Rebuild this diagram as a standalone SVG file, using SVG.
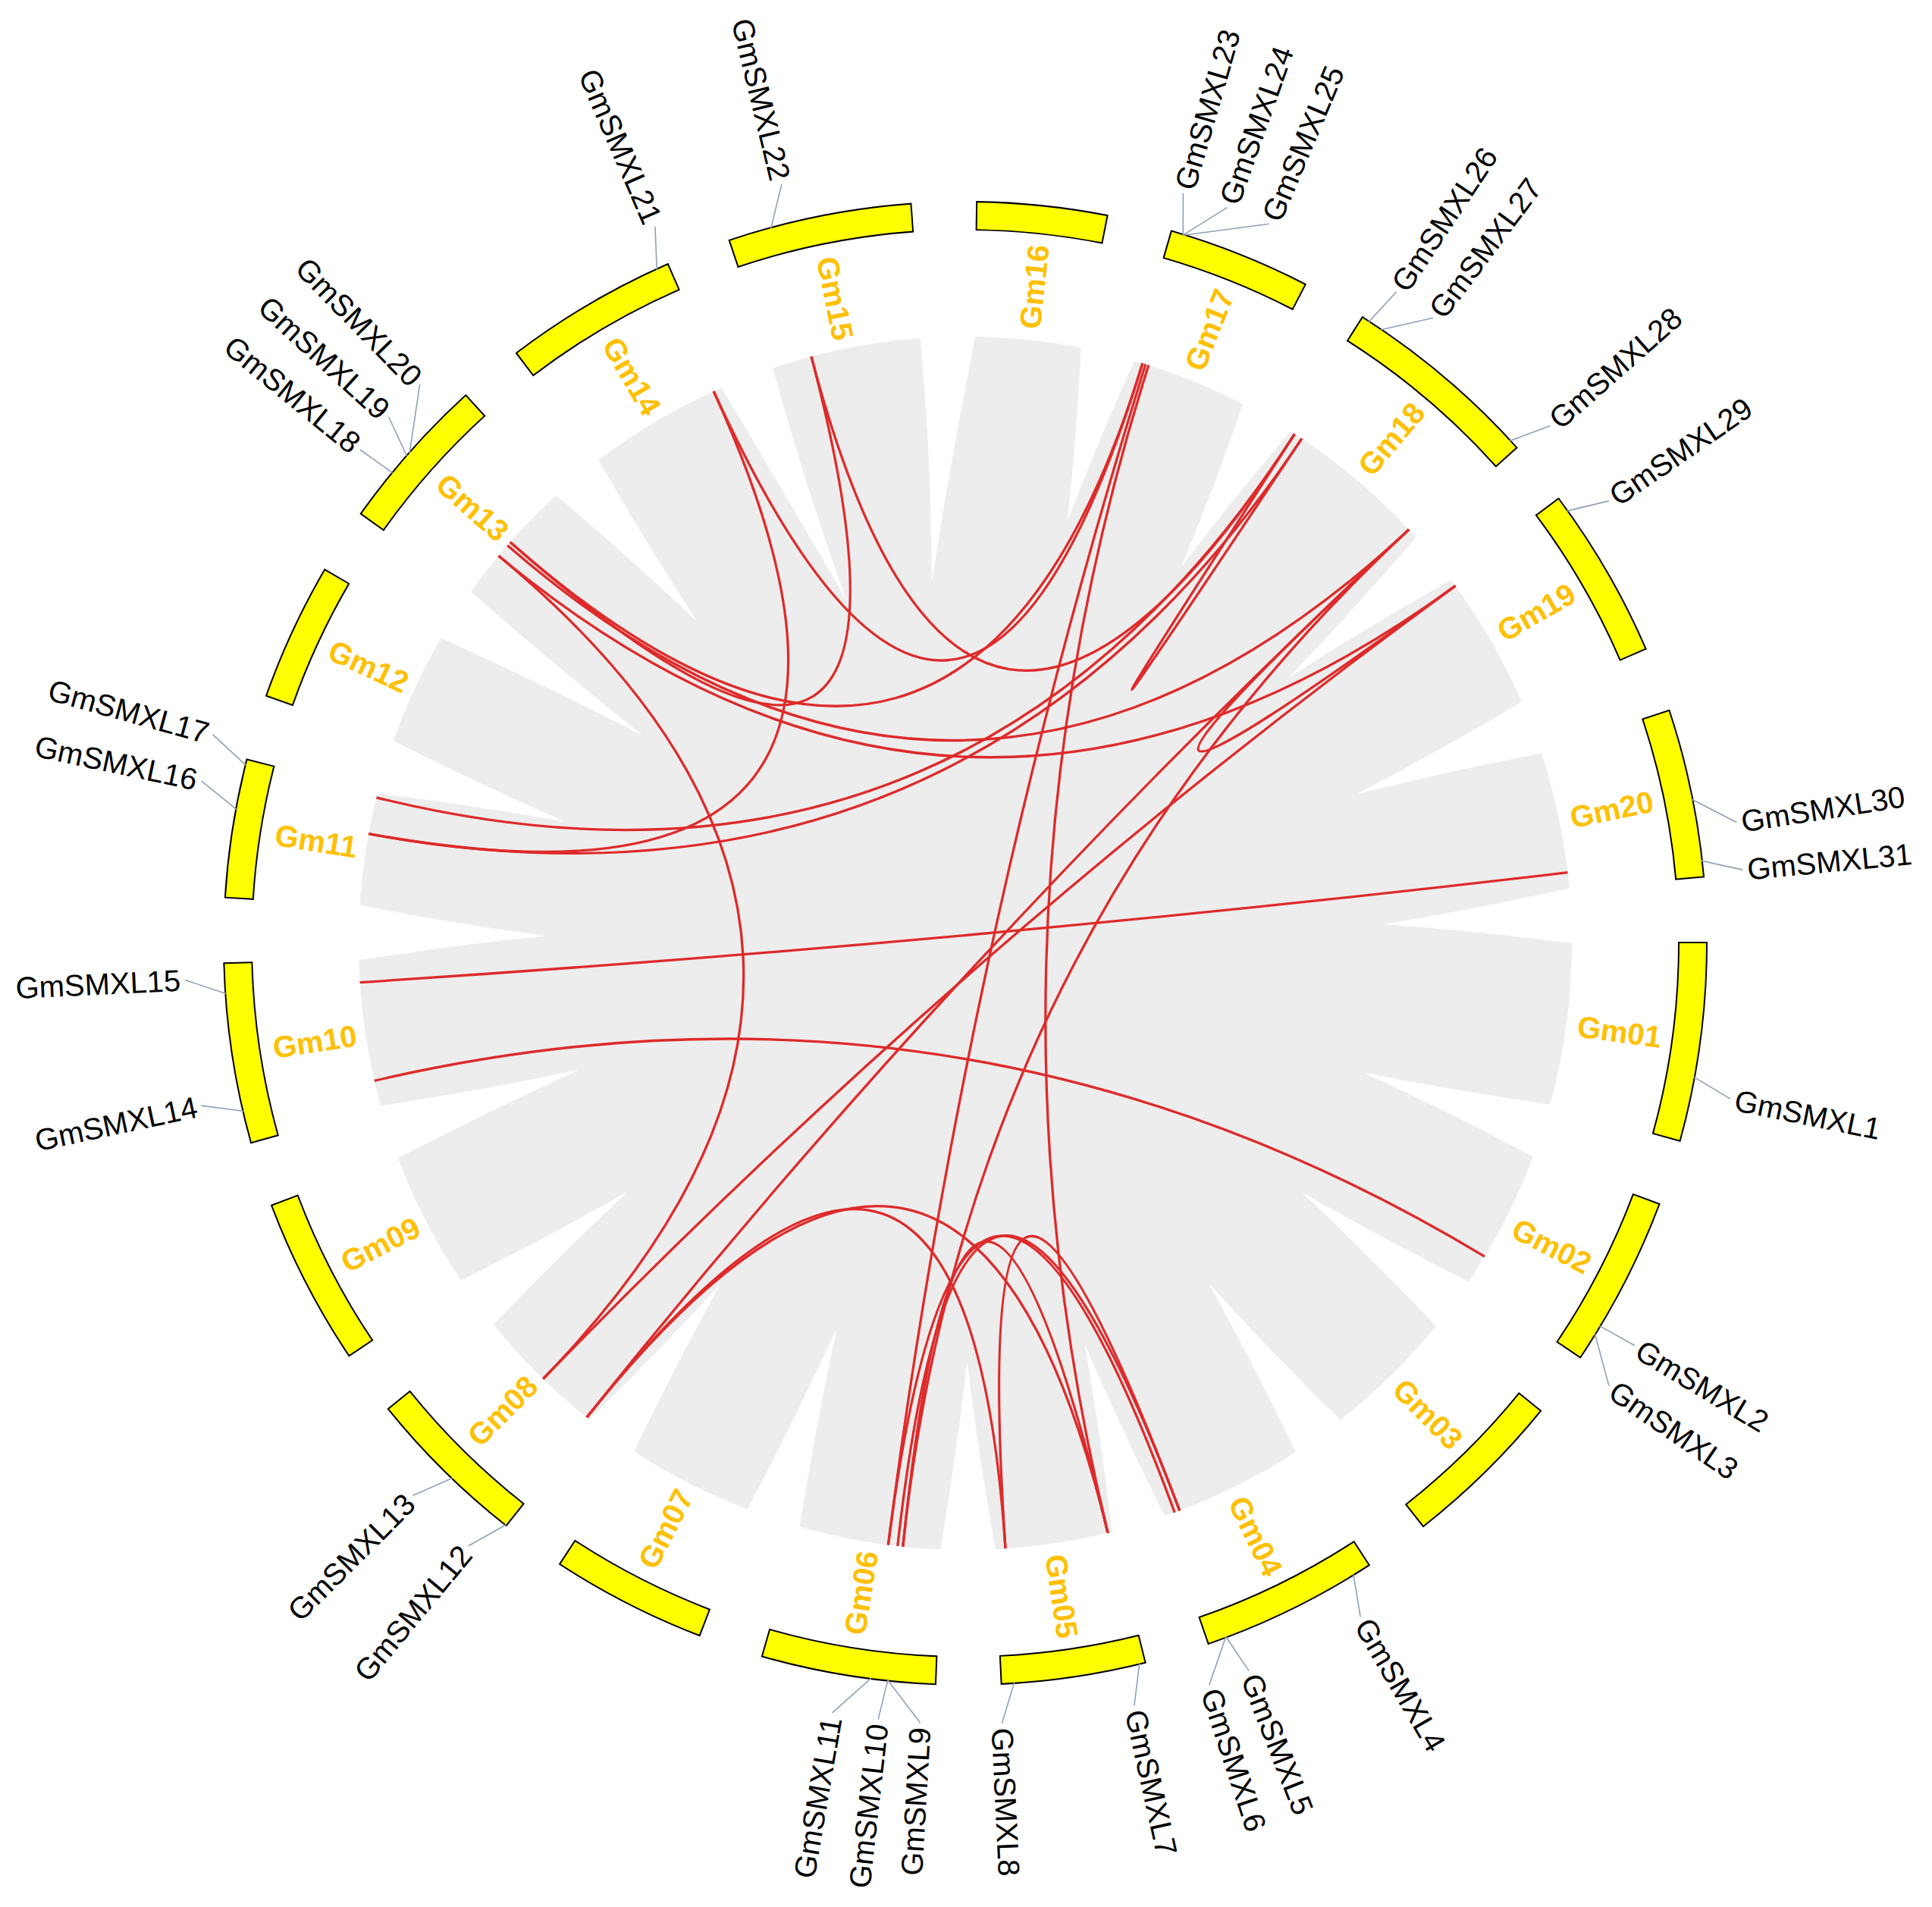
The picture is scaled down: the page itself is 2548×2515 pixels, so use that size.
<svg xmlns="http://www.w3.org/2000/svg" width="2548" height="2515" viewBox="0 0 2548 2515">
<style>
.chrB{fill:none;stroke:#000;stroke-width:39}
.chrY{fill:none;stroke:#ffff00;stroke-width:35}
.cl{font-family:"Liberation Sans",Arial,sans-serif;font-weight:bold;font-size:40px;fill:#FFC000}
.gl{font-family:"Liberation Sans",Arial,sans-serif;font-size:40px;fill:#000}
.cn{stroke:#8FA1B5;stroke-width:1.6;fill:none}
.lk{fill:none;stroke:#DE2A2A;stroke-width:3.3}
.wd{fill:#fff}
</style>
<defs>
<path id="w48" d="M812,-37L812,37L799.2,36.3Q638.6,14.5 478,0Q638.6,-14.5 799.2,-36.3Z"/>
<path id="w48l" d="M812,-37L812,37L799.2,36.3Q638,-1 477,-30.4Q638,-26 799.2,-36.3Z"/>
<path id="w48r" d="M812,-37L812,37L799.2,36.3Q638,20 478,16.7Q638,-8 799.2,-36.3Z"/>
<path id="w50" d="M812,-37L812,37L799.2,36.3Q652.1,14.5 505,0Q652.1,-14.5 799.2,-36.3Z"/>
<path id="w53" d="M812,-37L812,37L799.2,36.3Q667.1,14.5 535,0Q667.1,-14.5 799.2,-36.3Z"/>
<path id="w55" d="M812,-37L812,37L799.2,36.3Q675.6,14.5 552,0Q675.6,-14.5 799.2,-36.3Z"/>
<path id="w57" d="M812,-37L812,37L799.2,36.3Q685.6,14.5 572,0Q685.6,-14.5 799.2,-36.3Z"/>
</defs>
<rect width="2548" height="2515" fill="#fff"/>
<g transform="translate(1273 1244)">
<g id="synteny">
<circle r="800" fill="#ededed"/>
<g class="wd">
<use href="#w55" transform="rotate(18)"/>
<use href="#w55" transform="rotate(36.5)"/>
<use href="#w55" transform="rotate(54.4)"/>
<use href="#w55" transform="rotate(73.4)"/>
<use href="#w55" transform="rotate(89.75)"/>
<use href="#w53" transform="rotate(108.45)"/>
<use href="#w55" transform="rotate(125.7)"/>
<use href="#w55" transform="rotate(143.65)"/>
<use href="#w53" transform="rotate(161.85)"/>
<use href="#w55" transform="rotate(181)"/>
<use href="#w55" transform="rotate(196.9)"/>
<use href="#w50" transform="rotate(212.8)"/>
<use href="#w55" transform="rotate(230.2)"/>
<use href="#w48r" transform="rotate(248.9)"/>
<use href="#w48l" transform="rotate(268.35)"/>
<use href="#w57" transform="rotate(283.6)"/>
<use href="#w57" transform="rotate(299.85)"/>
<use href="#w55" transform="rotate(320.6)"/>
<use href="#w55" transform="rotate(339.15)"/>
<use href="#w55" transform="rotate(357.4)"/>
</g>
</g>
<g id="links" class="lk">
<path d="M-798.3,51.6Q0,0 794.5,-93.3"/>
<path d="M-779.2,181.3Q0,0 685,413.2"/>
<path d="M-615.5,-511Q0,0 -556.7,574.5"/>
<path d="M-615.5,-511Q0,0 646.4,-471.4"/>
<path d="M-600.1,-529Q0,0 -203,-773.8"/>
<path d="M-600.1,-529Q0,0 233.9,-765"/>
<path d="M-603.8,-524.8Q0,0 585.1,-545.6"/>
<path d="M-776.6,-192.2Q0,0 434.5,-671.7"/>
<path d="M-786.9,-144.4Q0,0 443.9,-665.6"/>
<path d="M-331.8,-728Q0,0 -786.9,-144.4"/>
<path d="M-331.8,-728Q0,0 233.9,-765"/>
<path d="M-203,-773.8Q0,0 434.5,-671.7"/>
<path d="M434.5,-671.7Q0,0 443.9,-665.6"/>
<path d="M585.1,-545.6Q0,0 646.4,-471.4"/>
<path d="M-499.1,625.2Q0,0 585.1,-545.6"/>
<path d="M-556.7,574.5Q0,0 646.4,-471.4"/>
<path d="M-101.6,793.5Q0,0 237.9,-763.8"/>
<path d="M-82.2,795.8Q0,0 585.1,-545.6"/>
<path d="M188.1,777.6Q0,0 241.9,-762.6"/>
<path d="M-82.2,795.8Q0,0 188.1,777.6"/>
<path d="M-89.2,795Q0,0 282.8,748.4"/>
<path d="M-101.6,793.5Q0,0 276.2,750.8"/>
<path d="M53,798.2Q0,0 282.8,748.4"/>
<path d="M-499.1,625.2Q0,0 188.1,777.6"/>
<path d="M-499.1,625.2Q0,0 53,798.2"/>
</g>
<g id="Gm01"><circle class="chrB" r="959.5" transform="rotate(-0.12)" stroke-dasharray="261.9 7000"/><circle class="chrY" r="959.5" stroke-dasharray="257.9 7000"/><text class="cl" transform="rotate(7.7)" x="815" dy="0.35em">Gm01</text></g>
<g id="Gm02"><circle class="chrB" r="959.5" transform="rotate(20.53)" stroke-dasharray="225.9 7000"/><circle class="chrY" r="959.5" transform="rotate(20.65)" stroke-dasharray="221.9 7000"/><text class="cl" transform="rotate(27.3)" x="815" dy="0.35em">Gm02</text></g>
<g id="Gm03"><circle class="chrB" r="959.5" transform="rotate(39.03)" stroke-dasharray="215.8 7000"/><circle class="chrY" r="959.5" transform="rotate(39.15)" stroke-dasharray="211.8 7000"/><text class="cl" transform="rotate(45.5)" x="815" dy="0.35em">Gm03</text></g>
<g id="Gm04"><circle class="chrB" r="959.5" transform="rotate(56.93)" stroke-dasharray="234.3 7000"/><circle class="chrY" r="959.5" transform="rotate(57.05)" stroke-dasharray="230.3 7000"/><text class="cl" transform="rotate(63.9)" x="815" dy="0.35em">Gm04</text></g>
<g id="Gm05"><circle class="chrB" r="959.5" transform="rotate(75.88)" stroke-dasharray="190.7 7000"/><circle class="chrY" r="959.5" transform="rotate(76)" stroke-dasharray="186.7 7000"/><text class="cl" transform="rotate(81.6)" x="815" dy="0.35em">Gm05</text></g>
<g id="Gm06"><circle class="chrB" r="959.5" transform="rotate(92.23)" stroke-dasharray="230.1 7000"/><circle class="chrY" r="959.5" transform="rotate(92.35)" stroke-dasharray="226.1 7000"/><text class="cl" transform="rotate(-80.9)" x="-812" dy="0.35em" text-anchor="end">Gm06</text></g>
<g id="Gm07"><circle class="chrB" r="959.5" transform="rotate(110.93)" stroke-dasharray="205.8 7000"/><circle class="chrY" r="959.5" transform="rotate(111.05)" stroke-dasharray="201.8 7000"/><text class="cl" transform="rotate(-62.9)" x="-812" dy="0.35em" text-anchor="end">Gm07</text></g>
<g id="Gm08"><circle class="chrB" r="959.5" transform="rotate(128.18)" stroke-dasharray="217.5 7000"/><circle class="chrY" r="959.5" transform="rotate(128.3)" stroke-dasharray="213.5 7000"/><text class="cl" transform="rotate(-45.3)" x="-812" dy="0.35em" text-anchor="end">Gm08</text></g>
<g id="Gm09"><circle class="chrB" r="959.5" transform="rotate(146.13)" stroke-dasharray="221.7 7000"/><circle class="chrY" r="959.5" transform="rotate(146.25)" stroke-dasharray="217.7 7000"/><text class="cl" transform="rotate(-27.25)" x="-812" dy="0.35em" text-anchor="end">Gm09</text></g>
<g id="Gm10"><circle class="chrB" r="959.5" transform="rotate(164.33)" stroke-dasharray="237.6 7000"/><circle class="chrY" r="959.5" transform="rotate(164.45)" stroke-dasharray="233.6 7000"/><text class="cl" transform="rotate(-8.6)" x="-812" dy="0.35em" text-anchor="end">Gm10</text></g>
<g id="Gm11"><circle class="chrB" r="959.5" transform="rotate(183.48)" stroke-dasharray="183.2 7000"/><circle class="chrY" r="959.5" transform="rotate(183.6)" stroke-dasharray="179.2 7000"/><text class="cl" transform="rotate(8.95)" x="-812" dy="0.35em" text-anchor="end">Gm11</text></g>
<g id="Gm12"><circle class="chrB" r="959.5" transform="rotate(199.43)" stroke-dasharray="182.4 7000"/><circle class="chrY" r="959.5" transform="rotate(199.55)" stroke-dasharray="178.4 7000"/><text class="cl" transform="rotate(24.9)" x="-812" dy="0.35em" text-anchor="end">Gm12</text></g>
<g id="Gm13"><circle class="chrB" r="959.5" transform="rotate(215.33)" stroke-dasharray="207.5 7000"/><circle class="chrY" r="959.5" transform="rotate(215.45)" stroke-dasharray="203.5 7000"/><text class="cl" transform="rotate(41.5)" x="-812" dy="0.35em" text-anchor="end">Gm13</text></g>
<g id="Gm14"><circle class="chrB" r="959.5" transform="rotate(232.68)" stroke-dasharray="230.1 7000"/><circle class="chrY" r="959.5" transform="rotate(232.8)" stroke-dasharray="226.1 7000"/><text class="cl" transform="rotate(59.55)" x="-812" dy="0.35em" text-anchor="end">Gm14</text></g>
<g id="Gm15"><circle class="chrB" r="959.5" transform="rotate(251.38)" stroke-dasharray="242.6 7000"/><circle class="chrY" r="959.5" transform="rotate(251.5)" stroke-dasharray="238.6 7000"/><text class="cl" transform="rotate(78.6)" x="-812" dy="0.35em" text-anchor="end">Gm15</text></g>
<g id="Gm16"><circle class="chrB" r="959.5" transform="rotate(270.83)" stroke-dasharray="172.3 7000"/><circle class="chrY" r="959.5" transform="rotate(270.95)" stroke-dasharray="168.3 7000"/><text class="cl" transform="rotate(276)" x="815" dy="0.35em">Gm16</text></g>
<g id="Gm17"><circle class="chrB" r="959.5" transform="rotate(286.08)" stroke-dasharray="189.1 7000"/><circle class="chrY" r="959.5" transform="rotate(286.2)" stroke-dasharray="185.1 7000"/><text class="cl" transform="rotate(291.7)" x="815" dy="0.35em">Gm17</text></g>
<g id="Gm18"><circle class="chrB" r="959.5" transform="rotate(302.33)" stroke-dasharray="264.4 7000"/><circle class="chrY" r="959.5" transform="rotate(302.45)" stroke-dasharray="260.4 7000"/><text class="cl" transform="rotate(310.2)" x="815" dy="0.35em">Gm18</text></g>
<g id="Gm19"><circle class="chrB" r="959.5" transform="rotate(323.08)" stroke-dasharray="227.6 7000"/><circle class="chrY" r="959.5" transform="rotate(323.2)" stroke-dasharray="223.6 7000"/><text class="cl" transform="rotate(329.9)" x="815" dy="0.35em">Gm19</text></g>
<g id="Gm20"><circle class="chrB" r="959.5" transform="rotate(341.63)" stroke-dasharray="222.5 7000"/><circle class="chrY" r="959.5" transform="rotate(341.75)" stroke-dasharray="218.5 7000"/><text class="cl" transform="rotate(348.3)" x="815" dy="0.35em">Gm20</text></g>
<g id="leaders" class="cn">
<line transform="rotate(10.4)" x1="977" y1="0" x2="1029.8" y2="19.8"/>
<line transform="rotate(31.1)" x1="977" y1="0" x2="1030" y2="-1.8"/>
<line transform="rotate(31.8)" x1="977" y1="0" x2="1028.9" y2="48.5"/>
<line transform="rotate(58.4)" x1="977" y1="0" x2="1029.8" y2="21.6"/>
<line transform="rotate(69.4)" x1="977" y1="0" x2="1029.9" y2="-12.6"/>
<line transform="rotate(69.4)" x1="977" y1="0" x2="1029.1" y2="43.1"/>
<line transform="rotate(76.4)" x1="977" y1="0" x2="1029.8" y2="19.8"/>
<line transform="rotate(86.2)" x1="977" y1="0" x2="1029.8" y2="19.8"/>
<line transform="rotate(96)" x1="977" y1="0" x2="1028.9" y2="-48.5"/>
<line transform="rotate(96)" x1="977" y1="0" x2="1030" y2="7.2"/>
<line transform="rotate(97.3)" x1="977" y1="0" x2="1029" y2="44.9"/>
<line transform="rotate(128.3)" x1="977" y1="0" x2="1029.8" y2="21.6"/>
<line transform="rotate(133.8)" x1="977" y1="0" x2="1029.8" y2="21.6"/>
<line transform="rotate(166.9)" x1="977" y1="0" x2="1029.8" y2="19.8"/>
<line transform="rotate(176.1)" x1="977" y1="0" x2="1029.8" y2="21.6"/>
<line transform="rotate(190.4)" x1="977" y1="0" x2="1029.6" y2="28.8"/>
<line transform="rotate(193.9)" x1="977" y1="0" x2="1029.6" y2="28.8"/>
<line transform="rotate(219.4)" x1="977" y1="0" x2="1030" y2="-3.6"/>
<line transform="rotate(221.1)" x1="977" y1="0" x2="1029.7" y2="23.4"/>
<line transform="rotate(221.4)" x1="977" y1="0" x2="1027.1" y2="77.2"/>
<line transform="rotate(245.4)" x1="977" y1="0" x2="1029.8" y2="21.6"/>
<line transform="rotate(254.8)" x1="977" y1="0" x2="1029.6" y2="28.8"/>
<line transform="rotate(287.1)" x1="977" y1="0" x2="1029.9" y2="-16.2"/>
<line transform="rotate(287.1)" x1="977" y1="0" x2="1029" y2="44.9"/>
<line transform="rotate(287.1)" x1="977" y1="0" x2="1024.7" y2="104.1"/>
<line transform="rotate(303)" x1="977" y1="0" x2="1030" y2="9"/>
<line transform="rotate(304.1)" x1="977" y1="0" x2="1028.9" y2="48.5"/>
<line transform="rotate(317.3)" x1="977" y1="0" x2="1029.8" y2="21.6"/>
<line transform="rotate(324.3)" x1="977" y1="0" x2="1029.8" y2="21.6"/>
<line transform="rotate(348.8)" x1="977" y1="0" x2="1029.2" y2="41.3"/>
<line transform="rotate(353.6)" x1="977" y1="0" x2="1029.8" y2="18"/>
</g>
<g id="GmSMXL1"><text class="gl" transform="rotate(11.5)" x="1036" dy="0.35em">GmSMXL1</text></g>
<g id="GmSMXL2"><text class="gl" transform="rotate(31)" x="1036" dy="0.35em">GmSMXL2</text></g>
<g id="GmSMXL3"><text class="gl" transform="rotate(34.5)" x="1036" dy="0.35em">GmSMXL3</text></g>
<g id="GmSMXL4"><text class="gl" transform="rotate(59.6)" x="1036" dy="0.35em">GmSMXL4</text></g>
<g id="GmSMXL5"><text class="gl" transform="rotate(68.7)" x="1036" dy="0.35em">GmSMXL5</text></g>
<g id="GmSMXL6"><text class="gl" transform="rotate(71.8)" x="1036" dy="0.35em">GmSMXL6</text></g>
<g id="GmSMXL7"><text class="gl" transform="rotate(77.5)" x="1036" dy="0.35em">GmSMXL7</text></g>
<g id="GmSMXL8"><text class="gl" transform="rotate(87.3)" x="1036" dy="0.35em">GmSMXL8</text></g>
<g id="GmSMXL9"><text class="gl" transform="rotate(-86.7)" x="-1036" dy="0.35em" text-anchor="end">GmSMXL9</text></g>
<g id="GmSMXL10"><text class="gl" transform="rotate(-83.6)" x="-1036" dy="0.35em" text-anchor="end">GmSMXL10</text></g>
<g id="GmSMXL11"><text class="gl" transform="rotate(-80.2)" x="-1036" dy="0.35em" text-anchor="end">GmSMXL11</text></g>
<g id="GmSMXL12"><text class="gl" transform="rotate(-50.5)" x="-1036" dy="0.35em" text-anchor="end">GmSMXL12</text></g>
<g id="GmSMXL13"><text class="gl" transform="rotate(-45)" x="-1036" dy="0.35em" text-anchor="end">GmSMXL13</text></g>
<g id="GmSMXL14"><text class="gl" transform="rotate(-12)" x="-1036" dy="0.35em" text-anchor="end">GmSMXL14</text></g>
<g id="GmSMXL15"><text class="gl" transform="rotate(-2.7)" x="-1036" dy="0.35em" text-anchor="end">GmSMXL15</text></g>
<g id="GmSMXL16"><text class="gl" transform="rotate(12)" x="-1036" dy="0.35em" text-anchor="end">GmSMXL16</text></g>
<g id="GmSMXL17"><text class="gl" transform="rotate(15.5)" x="-1036" dy="0.35em" text-anchor="end">GmSMXL17</text></g>
<g id="GmSMXL18"><text class="gl" transform="rotate(39.2)" x="-1036" dy="0.35em" text-anchor="end">GmSMXL18</text></g>
<g id="GmSMXL19"><text class="gl" transform="rotate(42.4)" x="-1036" dy="0.35em" text-anchor="end">GmSMXL19</text></g>
<g id="GmSMXL20"><text class="gl" transform="rotate(45.7)" x="-1036" dy="0.35em" text-anchor="end">GmSMXL20</text></g>
<g id="GmSMXL21"><text class="gl" transform="rotate(66.6)" x="-1036" dy="0.35em" text-anchor="end">GmSMXL21</text></g>
<g id="GmSMXL22"><text class="gl" transform="rotate(76.4)" x="-1036" dy="0.35em" text-anchor="end">GmSMXL22</text></g>
<g id="GmSMXL23"><text class="gl" transform="rotate(286.2)" x="1036" dy="0.35em">GmSMXL23</text></g>
<g id="GmSMXL24"><text class="gl" transform="rotate(289.6)" x="1036" dy="0.35em">GmSMXL24</text></g>
<g id="GmSMXL25"><text class="gl" transform="rotate(292.9)" x="1036" dy="0.35em">GmSMXL25</text></g>
<g id="GmSMXL26"><text class="gl" transform="rotate(303.5)" x="1036" dy="0.35em">GmSMXL26</text></g>
<g id="GmSMXL27"><text class="gl" transform="rotate(306.8)" x="1036" dy="0.35em">GmSMXL27</text></g>
<g id="GmSMXL28"><text class="gl" transform="rotate(318.5)" x="1036" dy="0.35em">GmSMXL28</text></g>
<g id="GmSMXL29"><text class="gl" transform="rotate(325.5)" x="1036" dy="0.35em">GmSMXL29</text></g>
<g id="GmSMXL30"><text class="gl" transform="rotate(351.1)" x="1036" dy="0.35em">GmSMXL30</text></g>
<g id="GmSMXL31"><text class="gl" transform="rotate(354.6)" x="1036" dy="0.35em">GmSMXL31</text></g>
</g>
</svg>
